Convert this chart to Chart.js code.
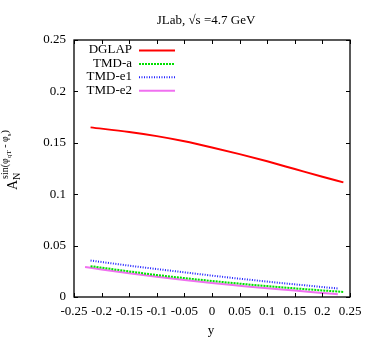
<!DOCTYPE html>
<html>
<head>
<meta charset="utf-8">
<script src="https://cdn.jsdelivr.net/npm/chart.js@4"></script>
<style>
  html, body { margin: 0; padding: 0; background: #fff; }
  #wrap { width: 374px; height: 340px; }
</style>
</head>
<body>
<div id="wrap"><canvas id="chart" width="374" height="340"></canvas></div>
<script>
// values
const xDglap = [-0.22, -0.15, -0.1, -0.05, 0, 0.05, 0.1, 0.15, 0.2, 0.238];
const yDglap = [0.165, 0.1605, 0.1565, 0.1515, 0.1455, 0.139, 0.132, 0.1245, 0.117, 0.1115];

const xTmdA = [-0.22, -0.15, -0.1, -0.05, 0, 0.05, 0.1, 0.15, 0.2, 0.238];
const yTmdA = [0.030, 0.0249, 0.0214, 0.0184, 0.0156, 0.013, 0.0106, 0.0084, 0.0064, 0.0049];

const xTmdE1 = [-0.22, -0.15, -0.1, -0.05, 0, 0.05, 0.1, 0.15, 0.2, 0.229];
const yTmdE1 = [0.0355, 0.0305, 0.0272, 0.024, 0.0208, 0.0178, 0.015, 0.0123, 0.0097, 0.0083];

const xTmdE2 = [-0.23, -0.2, -0.15, -0.1, -0.05, 0, 0.05, 0.1, 0.15, 0.2, 0.228];
const yTmdE2 = [0.0292, 0.0268, 0.0231, 0.0197, 0.0165, 0.0136, 0.011, 0.0085, 0.0063, 0.0039, 0.0027];

const xTicks = [-0.25, -0.2, -0.15, -0.1, -0.05, 0, 0.05, 0.1, 0.15, 0.2, 0.25];
const yTicks = [0, 0.05, 0.1, 0.15, 0.2, 0.25];

const FONT = "'Liberation Serif', 'DejaVu Serif', serif";

const toPts = (xs, ys) => xs.map((x, i) => ({ x: x, y: ys[i] }));

const series = [
  { label: "DGLAP", data: toPts(xDglap, yDglap), color: "#ff0000", dash: [], width: 2 },
  { label: "TMD-a", data: toPts(xTmdA, yTmdA), color: "#00e000", dash: [2, 1], width: 2 },
  { label: "TMD-e1", data: toPts(xTmdE1, yTmdE1), color: "#2020ff", dash: [1, 1.5], width: 2 },
  { label: "TMD-e2", data: toPts(xTmdE2, yTmdE2), color: "#f070f0", dash: [], width: 2 },
];

// gnuplot-like decorations: inner ticks, border, title, labels, key
const decor = {
  id: "decor",
  afterDraw(chart) {
    const { ctx, chartArea: a, scales } = chart;
    const xs = scales.x, ys = scales.y;
    ctx.save();
    ctx.strokeStyle = "#000";
    ctx.lineWidth = 1;
    ctx.beginPath();
    xTicks.forEach((v) => {
      const px = Math.round(xs.getPixelForValue(v)) + 0.5;
      ctx.moveTo(px, a.bottom); ctx.lineTo(px, a.bottom - 4);
      ctx.moveTo(px, a.top); ctx.lineTo(px, a.top + 4);
    });
    yTicks.forEach((v) => {
      const py = Math.round(ys.getPixelForValue(v)) + 0.5;
      ctx.moveTo(a.left, py); ctx.lineTo(a.left + 4, py);
      ctx.moveTo(a.right, py); ctx.lineTo(a.right - 4, py);
    });
    ctx.stroke();
    ctx.lineWidth = 1.3;
    ctx.strokeRect(a.left, a.top, a.right - a.left, a.bottom - a.top);

    ctx.fillStyle = "#000";
    // title
    ctx.font = "13px " + FONT;
    ctx.textBaseline = "middle";
    ctx.textAlign = "center";
    ctx.fillText("JLab, \u221As =4.7 GeV", 206, 21);
    // x label
    ctx.fillText("y", 211, 331);

    // y label, rotated
    ctx.save();
    ctx.translate(17, 190);
    ctx.rotate(-Math.PI / 2);
    ctx.textAlign = "left";
    ctx.textBaseline = "alphabetic";
    ctx.font = "14px " + FONT;
    ctx.fillText("A", 0, 0);
    const wA = ctx.measureText("A").width;
    ctx.font = "10px " + FONT;
    ctx.fillText("N", wA, 3);
    ctx.fillText("sin(\u03C6", wA + 1, -9);
    let w = wA + 1 + ctx.measureText("sin(\u03C6").width;
    ctx.font = "7px " + FONT;
    ctx.fillText("qT", w, -6);
    w += ctx.measureText("qT").width;
    ctx.font = "10px " + FONT;
    ctx.fillText(" - \u03C6", w, -9);
    w += ctx.measureText(" - \u03C6").width;
    ctx.font = "7px " + FONT;
    ctx.fillText("s", w, -6);
    w += ctx.measureText("s").width;
    ctx.font = "10px " + FONT;
    ctx.fillText(")", w, -9);
    ctx.restore();

    // key
    ctx.font = "13px " + FONT;
    ctx.textAlign = "right";
    ctx.textBaseline = "middle";
    series.forEach((s, i) => {
      const y = 50 + i * 13.4;
      ctx.fillStyle = "#000";
      ctx.fillText(s.label, 132, y);
      ctx.strokeStyle = s.color;
      ctx.lineWidth = s.width;
      ctx.setLineDash(s.dash);
      ctx.beginPath();
      ctx.moveTo(139, y + 0.5);
      ctx.lineTo(175, y + 0.5);
      ctx.stroke();
    });
    ctx.setLineDash([]);
    ctx.restore();
  },
};

new Chart(document.getElementById("chart"), {
  type: "line",
  data: {
    datasets: series.map((s) => ({
      label: s.label,
      data: s.data,
      borderColor: s.color,
      borderWidth: s.width,
      borderDash: s.dash,
      pointRadius: 0,
      fill: false,
      cubicInterpolationMode: "monotone",
    })),
  },
  options: {
    responsive: false,
    animation: false,
    layout: { padding: { top: 40, right: 24, left: 0, bottom: 0 } },
    plugins: { legend: { display: false }, tooltip: { enabled: false } },
    scales: {
      x: {
        type: "linear",
        min: -0.25,
        max: 0.25,
        afterBuildTicks: (sc) => { sc.ticks = xTicks.map((v) => ({ value: v })); },
        afterFit: (sc) => { sc.height = 43; },
        grid: { display: false, drawTicks: false },
        border: { display: false },
        ticks: {
          color: "#000",
          padding: 7,
          maxRotation: 0,
          autoSkip: false,
          font: { family: FONT, size: 13 },
          callback: (v) => String(+v.toFixed(2)),
        },
      },
      y: {
        min: 0,
        max: 0.25,
        afterBuildTicks: (sc) => { sc.ticks = yTicks.map((v) => ({ value: v })); },
        afterFit: (sc) => { sc.width = 74; },
        grid: { display: false, drawTicks: false },
        border: { display: false },
        ticks: {
          color: "#000",
          padding: 8,
          font: { family: FONT, size: 13 },
          callback: (v) => String(+v.toFixed(2)),
        },
      },
    },
  },
  plugins: [decor],
});
</script>
</body>
</html>
